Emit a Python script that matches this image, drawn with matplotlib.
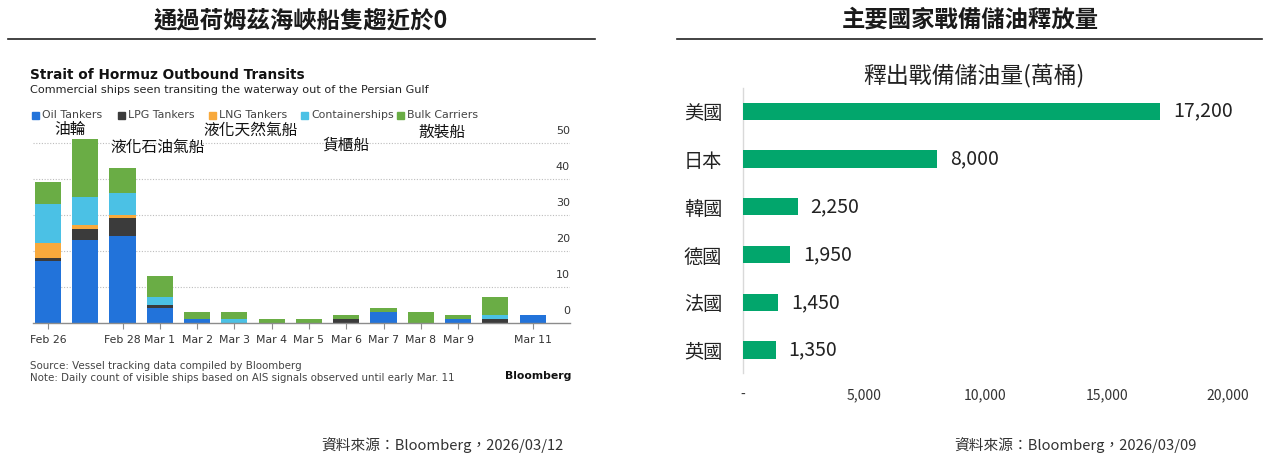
import matplotlib
matplotlib.use("Agg")
import matplotlib.pyplot as plt
import numpy as np
from matplotlib.transforms import blended_transform_factory

# ---------------- data ----------------
dates = ['Feb 26', 'Feb 27', 'Feb 28', 'Mar 1', 'Mar 2', 'Mar 3', 'Mar 4',
         'Mar 5', 'Mar 6', 'Mar 7', 'Mar 8', 'Mar 9', 'Mar 10', 'Mar 11']
shown_dates = ['Feb 26', 'Feb 28', 'Mar 1', 'Mar 2', 'Mar 3', 'Mar 4', 'Mar 5',
               'Mar 6', 'Mar 7', 'Mar 8', 'Mar 9', 'Mar 11']
oil_tankers = [17, 23, 24, 4, 1, 0, 0, 0, 0, 3, 0, 1, 0, 2]
lpg_tankers = [1, 3, 5, 1, 0, 0, 0, 0, 1, 0, 0, 0, 1, 0]
lng_tankers = [4, 1, 1, 0, 0, 0, 0, 0, 0, 0, 0, 0, 0, 0]
containerships = [11, 8, 6, 2, 0, 1, 0, 0, 0, 0, 0, 0, 1, 0]
bulk_carriers = [6, 16, 7, 6, 2, 2, 1, 1, 1, 1, 3, 1, 5, 0]
series_names = ['Oil Tankers', 'LPG Tankers', 'LNG Tankers', 'Containerships', 'Bulk Carriers']
left_yticks = [0, 10, 20, 30, 40, 50]

countries = ['美國', '日本', '韓國', '德國', '法國', '英國']
reserve_release = [17200, 8000, 2250, 1950, 1450, 1350]
right_xticks = [0, 5000, 10000, 15000, 20000]
right_xticklabels = ['-', '5,000', '10,000', '15,000', '20,000']

# ---------------- style ----------------
W, H = 1270, 457
fig = plt.figure(figsize=(W / 100, H / 100), dpi=100)
fig.patch.set_facecolor('white')
CJK = ['Noto Sans CJK TC', 'DejaVu Sans']
DJ = ['DejaVu Sans']

def fx(px):
    return px / W

def fy(py):
    return 1 - py / H

colors = ['#2273DA', '#3B3B3B', '#F8A93C', '#4BC1E5', '#6AAD45']

# ---------------- headers ----------------
fig.text(fx(301), fy(20), '通過荷姆茲海峽船隻趨近於0', family=CJK, fontsize=16.8,
         fontweight='bold', ha='center', va='center', color='#1a1a1a')
fig.text(fx(970), fy(20), '主要國家戰備儲油釋放量', family=CJK, fontsize=16.8,
         fontweight='bold', ha='center', va='center', color='#1a1a1a')
for x0, x1 in [(8, 595), (677, 1262)]:
    fig.add_artist(plt.Line2D([fx(x0), fx(x1)], [fy(39), fy(39)], color='#222222',
                              lw=1.2, transform=fig.transFigure))

fig.text(fx(563), fy(445), '資料來源：Bloomberg，2026/03/12', family=CJK, fontsize=10.6,
         ha='right', va='center', color='#333333')
fig.text(fx(1197), fy(445), '資料來源：Bloomberg，2026/03/09', family=CJK, fontsize=10.6,
         ha='right', va='center', color='#333333')

# ---------------- left: Bloomberg stacked bars ----------------
ax_l = fig.add_axes([fx(33), fy(322.5), fx(570) - fx(33), fy(322.5 - 187.2) - fy(322.5)])
x = np.arange(len(dates))
series = [oil_tankers, lpg_tankers, lng_tankers, containerships, bulk_carriers]
bottom = np.zeros(len(dates))
for vals, c, name in zip(series, colors, series_names):
    ax_l.bar(x, vals, bottom=bottom, width=0.7, color=c, label=name, zorder=3)
    bottom += np.array(vals)
ax_l.set_xlim(-0.4, 14.0)
ax_l.set_ylim(0, 52)
for s in ['top', 'right', 'left']:
    ax_l.spines[s].set_visible(False)
ax_l.spines['bottom'].set_color('#8c8c8c')
ax_l.spines['bottom'].set_linewidth(1.0)
ax_l.spines['bottom'].set_zorder(4)
ax_l.set_yticks([])
for v in left_yticks[1:]:
    ax_l.axhline(v, color='#bdbdbd', lw=0.8, ls=(0, (1, 1.5)), zorder=1)
ytr = blended_transform_factory(ax_l.transAxes, ax_l.transData)
for v in left_yticks:
    ax_l.text(1.0, v + 3.2, str(v), transform=ytr, ha='right', va='center',
              family=DJ, fontsize=8, color='#333333')
tick_pos = [dates.index(d) for d in shown_dates]
ax_l.set_xticks(tick_pos)
ax_l.set_xticklabels(shown_dates, family=DJ, fontsize=7.8, color='#333333')
ax_l.tick_params(axis='x', length=4, width=0.8, color='#8c8c8c', pad=5)

fig.text(fx(30), fy(75), 'Strait of Hormuz Outbound Transits', fontsize=9.8,
         fontweight='bold', ha='left', va='center', color='#111111')
fig.text(fx(30), fy(90), 'Commercial ships seen transiting the waterway out of the Persian Gulf',
         family=DJ, fontsize=8.1, ha='left', va='center', color='#222222')
legend_x = [32, 118, 209, 301, 397]
for lx, c, name in zip(legend_x, colors, series_names):
    fig.patches.append(plt.Rectangle((fx(lx), fy(119)), fx(7), 7 / H, color=c,
                                     transform=fig.transFigure, figure=fig))
    fig.text(fx(lx + 10), fy(115), name, family=DJ, fontsize=7.9, ha='left',
             va='center', color='#444444')

fig.text(fx(30), fy(366), 'Source: Vessel tracking data compiled by Bloomberg',
         family=DJ, fontsize=7.4, ha='left', va='center', color='#444444')
fig.text(fx(30), fy(378), 'Note: Daily count of visible ships based on AIS signals observed until early Mar. 11',
         family=DJ, fontsize=7.4, ha='left', va='center', color='#444444')
fig.text(fx(571), fy(376), 'Bloomberg', family=DJ, fontsize=7.8, fontweight='bold',
         ha='right', va='center', color='#111111')

# Chinese overlay labels
for txt, cx, cy in [('油輪', 70, 130), ('液化石油氣船', 158, 147), ('液化天然氣船', 251, 130),
                    ('貨櫃船', 346, 145), ('散裝船', 442, 132)]:
    fig.text(fx(cx), fy(cy), txt, family=CJK, fontsize=11.3, ha='center', va='center',
             color='#111111')

# ---------------- right: horizontal bars ----------------
ax_r = fig.add_axes([fx(743), fy(373), fx(1228) - fx(743), fy(88.3) - fy(373)])
y = np.arange(len(countries))
ax_r.barh(y, reserve_release, height=0.36, color='#02A66C', zorder=3)
ax_r.set_xlim(0, 20000)
ax_r.set_ylim(len(countries) - 0.52, -0.48)
for s in ['top', 'right', 'bottom']:
    ax_r.spines[s].set_visible(False)
ax_r.spines['left'].set_color('#d9d9d9')
ax_r.spines['left'].set_linewidth(1.0)
ax_r.set_yticks(y)
ax_r.set_yticklabels(countries, family=CJK, fontsize=13.8, color='#222222')
ax_r.tick_params(axis='y', length=0, pad=15)
ax_r.set_xticks(right_xticks)
ax_r.set_xticklabels(right_xticklabels, family=CJK, fontsize=10, color='#333333')
ax_r.tick_params(axis='x', length=0, pad=11)
for yi, v in zip(y, reserve_release):
    ax_r.annotate(f'{v:,}', (v, yi), xytext=(13, 0), textcoords='offset pixels',
                  ha='left', va='center', family=CJK, fontsize=14, color='#222222')
fig.text(fx(974), fy(75), '釋出戰備儲油量(萬桶)', family=CJK, fontsize=16.5,
         fontweight='medium', ha='center', va='center', color='#222222')

fig.savefig('out.png', dpi=100, facecolor='white')
